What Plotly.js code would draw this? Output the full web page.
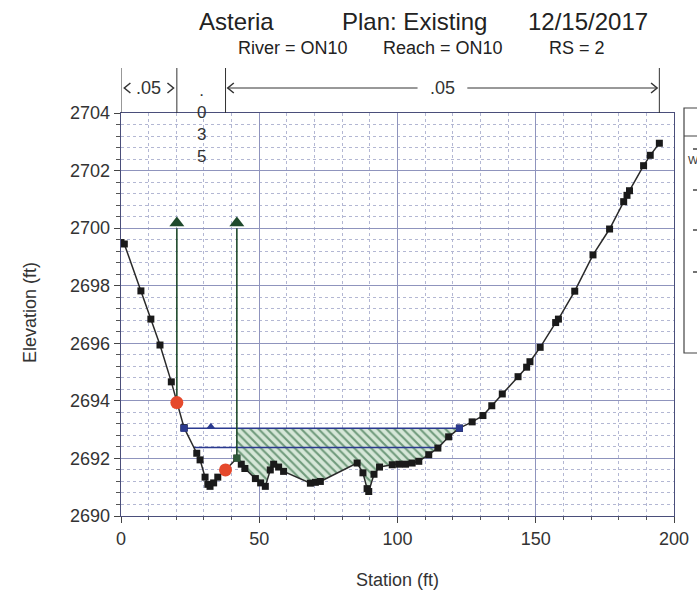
<!DOCTYPE html>
<html>
<head>
<meta charset="utf-8">
<script src="https://cdn.plot.ly/plotly-3.0.1.min.js"></script>
<style>html,body{margin:0;padding:0;background:#fff;overflow:hidden}#chart{width:697px;height:594px}</style>
</head>
<body>
<div id="chart"></div>
<script>
// Ground profile
const station = [0, 1.2, 7.2, 10.8, 14.1, 18.2, 20.2, 22.8, 27.4, 28.6, 30.4, 31.4, 32.2, 33.5, 35.0, 37.8, 41.9, 43.5, 44.8, 48.6, 50.5, 52.2, 54.0, 55.2, 57.0, 58.8, 68.5, 70.3, 72.1, 85.4, 87.5, 89.0, 89.6, 91.5, 93.5, 98.1, 100.5, 102.9, 105.3, 107.7, 111.3, 114.6, 118.5, 122.4, 127.0, 130.9, 134.1, 137.9, 143.6, 146.7, 147.9, 151.6, 157.2, 158.2, 164.1, 170.7, 176.7, 181.8, 183.0, 183.9, 189.0, 191.4, 194.7];
const elevation = [2699.5, 2699.45, 2697.82, 2696.84, 2695.94, 2694.66, 2693.94, 2693.07, 2692.18, 2691.95, 2691.35, 2691.1, 2691.03, 2691.15, 2691.35, 2691.6, 2692.01, 2691.8, 2691.65, 2691.3, 2691.15, 2691.03, 2691.6, 2691.8, 2691.7, 2691.55, 2691.14, 2691.17, 2691.2, 2691.84, 2691.5, 2690.95, 2690.85, 2691.45, 2691.7, 2691.78, 2691.8, 2691.8, 2691.84, 2691.9, 2692.13, 2692.36, 2692.75, 2693.05, 2693.27, 2693.49, 2693.83, 2694.24, 2694.84, 2695.17, 2695.36, 2695.86, 2696.72, 2696.84, 2697.81, 2699.07, 2699.97, 2700.92, 2701.14, 2701.3, 2702.17, 2702.53, 2702.95];

// Bank stations
const bankSta = [20.2, 37.8];
const bankElev = [2693.94, 2691.6];

// Water surfaces
const wsUpperSta = [22.8, 122.4];
const wsUpperElev = 2693.05;
const wsLowerSta = [26.3, 114.6];
const wsLowerElev = 2692.38;
const triSta = [32.5];
const triElev = [2693.1];

// Vertical arrow lines (ineffective limits)
const arrowSta = [20.2, 41.9];
const arrowBase = [2693.94, 2692.01];
const arrowTop = 2700;

// Manning's n
const nBreaks = [0, 20.2, 37.8, 194.7];
const nValues = ['.05', '.035', '.05'];

// Ticks
const xTicks = [0, 50, 100, 150, 200];
const yTicks = [2690, 2692, 2694, 2696, 2698, 2700, 2702, 2704];

// ---- build ----
const plotL = 121, plotR = 674, plotT = 113, plotB = 516;
const W = 697, H = 594;
const pw = plotR - plotL, ph = plotB - plotT;
const px = p => (p - plotL) / pw;
const py = p => (plotB - p) / ph;

const FONT = 'Liberation Sans, Arial, sans-serif';
const navy = '#2b3a8f';
const green = '#1f4a2c';

// hatched area between upper WS and ground, right of the second arrow line
const hx = [], hy = [];
for (let i = 0; i < station.length; i++) {
  if (station[i] >= arrowSta[1] && station[i] <= wsUpperSta[1]) { hx.push(station[i]); hy.push(elevation[i]); }
}
hx.push(wsUpperSta[1], arrowSta[1]); hy.push(wsUpperElev, wsUpperElev);

const traces = [];
traces.push({x: hx, y: hy, type: 'scatter', mode: 'lines', fill: 'toself',
  fillcolor: 'rgba(214,232,216,0.9)',
  fillpattern: {shape: '\\', fgcolor: '#6f9a7b', bgcolor: '#d6e7d8', size: 6, solidity: 0.35},
  line: {width: 0}, hoverinfo: 'skip', showlegend: false});

traces.push({x: wsLowerSta, y: wsLowerSta.map(() => wsLowerElev), type: 'scatter', mode: 'lines',
  line: {color: navy, width: 1.6}, showlegend: false});
traces.push({x: wsUpperSta, y: wsUpperSta.map(() => wsUpperElev), type: 'scatter', mode: 'lines+markers',
  line: {color: navy, width: 1.6}, marker: {symbol: 'square', size: 7, color: navy}, showlegend: false});
traces.push({x: triSta, y: triElev, type: 'scatter', mode: 'markers',
  marker: {symbol: 'triangle-up', size: 8, color: navy}, showlegend: false});

for (let i = 0; i < arrowSta.length; i++) {
  traces.push({x: [arrowSta[i], arrowSta[i]], y: [arrowBase[i], arrowTop], type: 'scatter', mode: 'lines',
    line: {color: green, width: 1.6}, showlegend: false});
}
traces.push({x: arrowSta, y: arrowSta.map(() => arrowTop + 0.18), type: 'scatter', mode: 'markers',
  marker: {symbol: 'triangle-up', size: 13, color: green}, showlegend: false});

traces.push({x: station, y: elevation, type: 'scatter', mode: 'lines+markers',
  line: {color: '#2a2a2a', width: 1.5}, marker: {symbol: 'square', size: 7, color: '#1a1a1a'}, showlegend: false});
traces.push({x: [wsUpperSta[0], wsUpperSta[1]], y: [wsUpperElev, wsUpperElev], type: 'scatter', mode: 'markers',
  marker: {symbol: 'square', size: 7, color: navy}, showlegend: false});
traces.push({x: bankSta, y: bankElev, type: 'scatter', mode: 'markers',
  marker: {symbol: 'circle', size: 13, color: '#e5492c'}, showlegend: false});
traces.push({x: [arrowSta[1]], y: [arrowBase[1]], type: 'scatter', mode: 'markers',
  marker: {symbol: 'square', size: 7, color: '#2f5a3a'}, showlegend: false});

// shapes and annotations
const shapes = [];
const annotations = [];
const nLineTop = py(68), arrowY = py(88);
nBreaks.forEach(s => shapes.push({type: 'line', xref: 'x', yref: 'paper', x0: s, x1: s, y0: 1, y1: nLineTop,
  line: {color: '#333', width: 1}}));

const ahX = 2.2, ahY = 5 / ph;
function leftHead(s) { return `M ${s + ahX},${arrowY + ahY} L ${s},${arrowY} L ${s + ahX},${arrowY - ahY}`; }
function rightHead(s) { return `M ${s - ahX},${arrowY + ahY} L ${s},${arrowY} L ${s - ahX},${arrowY - ahY}`; }
// left .05 segment: heads only
shapes.push({type: 'path', xref: 'x', yref: 'paper', path: leftHead(nBreaks[0] + 1.2), line: {color: '#333', width: 1.5}});
shapes.push({type: 'path', xref: 'x', yref: 'paper', path: rightHead(nBreaks[1] - 1.2), line: {color: '#333', width: 1.5}});
// right .05 segment with shafts
const midR = (nBreaks[2] + nBreaks[3]) / 2;
shapes.push({type: 'line', xref: 'x', yref: 'paper', x0: nBreaks[2] + 0.8, x1: midR - 9, y0: arrowY, y1: arrowY, line: {color: '#333', width: 1}});
shapes.push({type: 'line', xref: 'x', yref: 'paper', x0: midR + 9, x1: nBreaks[3] - 0.8, y0: arrowY, y1: arrowY, line: {color: '#333', width: 1}});
shapes.push({type: 'path', xref: 'x', yref: 'paper', path: leftHead(nBreaks[2] + 0.8), line: {color: '#333', width: 1.5}});
shapes.push({type: 'path', xref: 'x', yref: 'paper', path: rightHead(nBreaks[3] - 0.8), line: {color: '#333', width: 1.5}});

annotations.push({xref: 'x', yref: 'paper', x: (nBreaks[0] + nBreaks[1]) / 2, y: arrowY, text: nValues[0],
  showarrow: false, font: {family: FONT, size: 18, color: '#333'}, xanchor: 'center', yanchor: 'middle'});
annotations.push({xref: 'x', yref: 'paper', x: midR, y: arrowY, text: nValues[2],
  showarrow: false, font: {family: FONT, size: 18, color: '#333'}, xanchor: 'center', yanchor: 'middle'});
annotations.push({xref: 'x', yref: 'paper', x: (nBreaks[1] + nBreaks[2]) / 2, y: py(123), text: nValues[1].split('').join('<br>'),
  showarrow: false, font: {family: FONT, size: 17, color: '#333'}, xanchor: 'center', yanchor: 'middle'});

// titles
const titleParts = [['Asteria', 236], ['Plan: Existing', 414], ['12/15/2017', 588]];
titleParts.forEach(t => annotations.push({xref: 'paper', yref: 'paper', x: px(t[1]), y: py(21), text: t[0], showarrow: false,
  font: {family: FONT, size: 24, color: '#222'}, xanchor: 'center', yanchor: 'middle'}));
const subParts = [['River = ON10', 293], ['Reach = ON10', 443], ['RS = 2', 577]];
subParts.forEach(t => annotations.push({xref: 'paper', yref: 'paper', x: px(t[1]), y: py(48), text: t[0], showarrow: false,
  font: {family: FONT, size: 18, color: '#222'}, xanchor: 'center', yanchor: 'middle'}));
annotations.push({xref: 'paper', yref: 'paper', x: px(397), y: py(580), text: 'Station (ft)', showarrow: false,
  font: {family: FONT, size: 18, color: '#333'}, xanchor: 'center', yanchor: 'middle'});
annotations.push({xref: 'paper', yref: 'paper', x: px(30), y: py(313), text: 'Elevation (ft)', showarrow: false, textangle: -90,
  font: {family: FONT, size: 18, color: '#333'}, xanchor: 'center', yanchor: 'middle'});

// clipped legend box at right edge
shapes.push({type: 'rect', xref: 'paper', yref: 'paper', x0: px(684), x1: px(720), y0: py(353), y1: py(108), line: {color: '#444', width: 1.2}});
shapes.push({type: 'line', xref: 'paper', yref: 'paper', x0: px(684), x1: px(720), y0: py(136), y1: py(136), line: {color: '#444', width: 1}});
[149, 190, 230, 272].forEach(y => shapes.push({type: 'line', xref: 'paper', yref: 'paper', x0: px(693), x1: px(697), y0: py(y), y1: py(y), line: {color: '#444', width: 1.5}}));
annotations.push({xref: 'paper', yref: 'paper', x: px(686), y: py(160), text: 'W', showarrow: false, xanchor: 'left', yanchor: 'middle',
  font: {family: FONT, size: 11, color: '#333'}});

const axisCommon = {showline: true, mirror: true, linecolor: '#4a4e7a', linewidth: 1.3,
  gridcolor: '#8f94bd', gridwidth: 1, zeroline: false, ticks: 'outside', ticklen: 6, tickcolor: '#444',
  tickfont: {family: FONT, size: 18, color: '#333'}};

const layout = {
  width: W, height: H,
  margin: {l: plotL, r: W - plotR, t: plotT, b: H - plotB, pad: 0},
  paper_bgcolor: '#fff', plot_bgcolor: '#fff',
  showlegend: false,
  xaxis: Object.assign({}, axisCommon, {range: [0, 200], tickvals: xTicks, ticktext: xTicks.map(String),
    minor: {dtick: 10, tick0: 0, showgrid: true, griddash: '3px,3px', gridcolor: '#b3b7d3', gridwidth: 1, ticks: 'outside', ticklen: 3, tickcolor: '#555'}}),
  yaxis: Object.assign({}, axisCommon, {range: [2690, 2704], tickvals: yTicks, ticktext: yTicks.map(String),
    minor: {dtick: 0.4, tick0: 2690, showgrid: true, griddash: '3px,3px', gridcolor: '#b3b7d3', gridwidth: 1, ticks: 'outside', ticklen: 4, tickcolor: '#555'}}),
  shapes: shapes,
  annotations: annotations
};

Plotly.newPlot('chart', traces, layout, {staticPlot: true, displayModeBar: false});
</script>
</body>
</html>
